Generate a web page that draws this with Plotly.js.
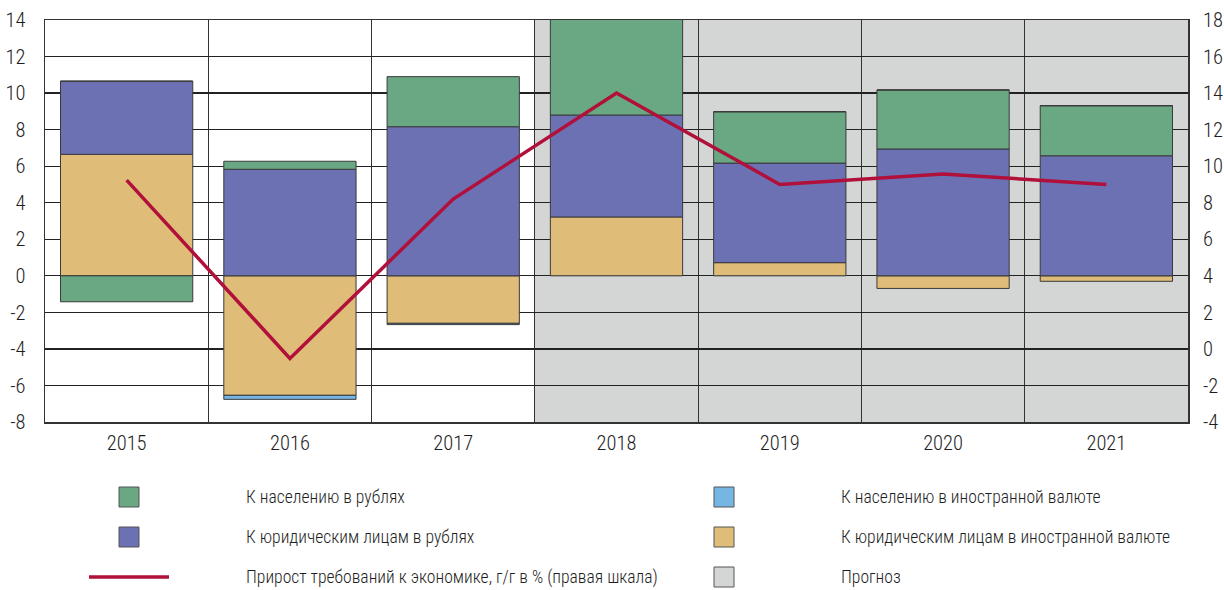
<!DOCTYPE html>
<html>
<head>
<meta charset="utf-8">
<script src="https://cdn.plot.ly/plotly-3.0.1.min.js"></script>
<style>html,body{margin:0;padding:0;background:#fff;}#chart{width:1224px;height:590px;}</style>
</head>
<body>
<div id="chart"></div>
<script>
// ---- data ----
var years = ['2015', '2016', '2017', '2018', '2019', '2020', '2021'];
var corpForeign = [6.65, -6.54, -2.60, 3.22, 0.72, -0.69, -0.30];   // К юридическим лицам в иностранной валюте
var corpRub     = [4.00, 5.83, 8.16, 5.58, 5.45, 6.94, 6.57];      // К юридическим лицам в рублях
var houseRub    = [-1.42, 0.44, 2.74, 5.60, 2.81, 3.23, 2.74];     // К населению в рублях
var houseForeign= [0, -0.22, -0.07, 0, 0, 0, 0];                   // К населению в иностранной валюте
var claimsGrowth= [9.24, -0.52, 8.20, 14.0, 9.0, 9.57, 9.0];       // Прирост требований к экономике, г/г в % (правая шкала)
var forecastFrom = '2018', forecastTo = '2021';
var leftTicks  = [-8, -6, -4, -2, 0, 2, 4, 6, 8, 10, 12, 14];
var rightTicks = [-4, -2, 0, 2, 4, 6, 8, 10, 12, 14, 16, 18];

var names = {
  houseRub: 'К населению в рублях',
  houseForeign: 'К населению в иностранной валюте',
  corpRub: 'К юридическим лицам в рублях',
  corpForeign: 'К юридическим лицам в иностранной валюте',
  growth: 'Прирост требований к экономике, г/г в % (правая шкала)',
  forecast: 'Прогноз'
};
var colors = {
  houseRub: '#69a883', houseForeign: '#76b6e4', corpRub: '#6c71b4',
  corpForeign: '#dfbc78', growth: '#b0103a', forecast: '#d4d5d5'
};

var FONT = '"Roboto Condensed", "Open Sans", sans-serif';
var TXT = '#1e1e1e';
var W = 1224, H = 590, ML = 45, MR = 36, MT = 20, MB = 168;
var PW = W - ML - MR, PH = H - MT - MB;
function px(X){ return (X - ML) / PW; }
function py(Y){ return (H - MB - Y) / PH; }
function lbl(v){ return String(v); } // plain hyphen-minus as in the reference

function bar(vals, key){
  return {type:'bar', x: years, y: vals, name: names[key], showlegend:false,
    marker:{color: colors[key], line:{color:'#3a3a3a', width:1}}, hoverinfo:'y'};
}
var traces = [
  bar(corpForeign,'corpForeign'),
  bar(corpRub,'corpRub'),
  bar(houseRub,'houseRub'),
  bar(houseForeign,'houseForeign'),
  {type:'scatter', mode:'lines', x: years, y: claimsGrowth, yaxis:'y2', name: names.growth,
   showlegend:false, line:{color: colors.growth, width:3.5}}
];

var shapes = [{type:'rect', xref:'x', yref:'y domain', layer:'below',
  x0: years.indexOf(forecastFrom) - 0.5, x1: years.indexOf(forecastTo) + 0.5, y0:0, y1:1,
  fillcolor: colors.forecast, line:{width:0}}];
var annotations = [];

// legend (manual, two columns)
var legendItems = [
  {key:'houseRub', col:0, row:0, kind:'box'},
  {key:'corpRub', col:0, row:1, kind:'box'},
  {key:'growth', col:0, row:2, kind:'line'},
  {key:'houseForeign', col:1, row:0, kind:'box'},
  {key:'corpForeign', col:1, row:1, kind:'box'},
  {key:'forecast', col:1, row:2, kind:'box'}
];
var colSym = [129, 724], colTxt = [244, 839], rowY = [497, 537, 577];
legendItems.forEach(function(it){
  var cx = colSym[it.col], cy = rowY[it.row];
  if (it.kind === 'box') {
    shapes.push({type:'rect', xref:'paper', yref:'paper',
      x0: px(cx-10), x1: px(cx+10), y0: py(cy+10), y1: py(cy-10),
      fillcolor: colors[it.key], line:{color:'#555', width:1}});
  } else {
    shapes.push({type:'line', xref:'paper', yref:'paper',
      x0: px(cx-40), x1: px(cx+40), y0: py(cy), y1: py(cy),
      line:{color: colors[it.key], width:3.5}});
  }
  annotations.push({xref:'paper', yref:'paper', x: px(colTxt[it.col]), y: py(cy),
    xanchor:'left', yanchor:'middle', showarrow:false, text: names[it.key],
    font:{family: FONT, size:17.6, weight:300, color: TXT}});
});

var tickFont = {family:FONT, size:20.5, weight:300, color:TXT};
var layout = {
  width: W, height: H,
  margin:{l:ML, r:MR, t:MT, b:MB, pad:0},
  paper_bgcolor:'#ffffff', plot_bgcolor:'rgba(0,0,0,0)',
  barmode:'relative', bargap:0.19,
  showlegend:false,
  font:{family: FONT, size:20, color: TXT},
  xaxis:{type:'category', tickson:'boundaries', showgrid:true, gridcolor:'#333', gridwidth:1,
    ticks:'', showline:true, linecolor:'#333', linewidth:1.5, mirror:true,
    tickfont:tickFont, ticklabelstandoff:2, range:[-0.5, 6.5]},
  yaxis:{range:[-8,14], tickmode:'array', tickvals:leftTicks, ticktext:leftTicks.map(lbl),
    showgrid:true, gridcolor:'#222', gridwidth:1.2,
    zeroline:true, zerolinecolor:'#222', zerolinewidth:1.2,
    showline:true, linecolor:'#333', linewidth:1.5, mirror:true, ticks:'',
    tickfont:tickFont, ticklabelstandoff:14},
  yaxis2:{overlaying:'y', side:'right', range:[-4,18], tickmode:'array', tickvals:rightTicks,
    ticktext:rightTicks.map(lbl), showgrid:false,
    zeroline:false, showline:false, ticks:'',
    tickfont:tickFont, ticklabelstandoff:14},
  shapes: shapes,
  annotations: annotations
};

Plotly.newPlot('chart', traces, layout, {displayModeBar:false, staticPlot:true});
</script>
</body>
</html>
